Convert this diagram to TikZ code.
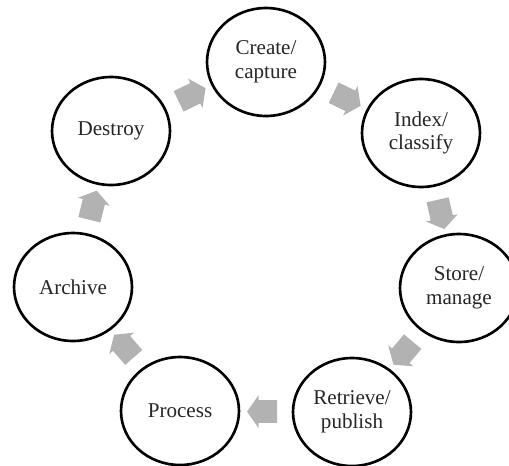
\documentclass[tikz,border=0pt]{standalone}
\usepackage{fontspec}
\setmainfont{Liberation Serif}
\usetikzlibrary{shapes.geometric,shapes.arrows,calc}

\begin{document}
\begin{tikzpicture}[scale=0.02,
    stage/.style={ellipse, draw=black, line width=1.5pt, fill=white,
      minimum width=2.36cm, minimum height=2.16cm, align=center,
      text=black!85, font=\fontsize{12}{13.4}\selectfont},
    flow/.style={single arrow, fill=black!30, draw=none,
      inner xsep=0pt, inner ysep=0.22cm, minimum height=0.6cm,
      single arrow head extend=0.1cm, single arrow tip angle=110}]
      \tikzstyle{every node}+=[inner sep=0pt]
      \useasboundingbox (0,0) rectangle (509,-465);
      % the seven stages
      \node [stage] (create) at (266,-62) {Create/\\capture};
      \node [stage] (index) at (421,-133) {Index/\\classify};
      \node [stage] (store) at (459,-288) {Store/\\manage};
      \node [stage] (retrieve) at (352,-412) {Retrieve/\\publish};
      \node [stage] (process) at (180,-411) {Process};
      \node [stage] (archive) at (73,-287) {Archive};
      \node [stage] (destroy) at (111,-131) {Destroy};
      % block arrows between them
      \node [flow, rotate=26] (a1) at ($(destroy)!0.5!(create)$) {};
      \node [flow, rotate=-26] (a2) at ($(create)!0.5!(index)$) {};
      \node [flow, rotate=-77] (a3) at ($(index)!0.5!(store)$) {};
      \node [flow, rotate=230] (a4) at ($(store)!0.5!(retrieve)$) {};
      \node [flow, rotate=180] (a5) at ($(retrieve)!0.5!(process)$) {};
      \node [flow, rotate=131] (a6) at ($(process)!0.5!(archive)$) {};
      \node [flow, rotate=76] (a7) at ($(archive)!0.5!(destroy)$) {};
\end{tikzpicture}
\end{document}
